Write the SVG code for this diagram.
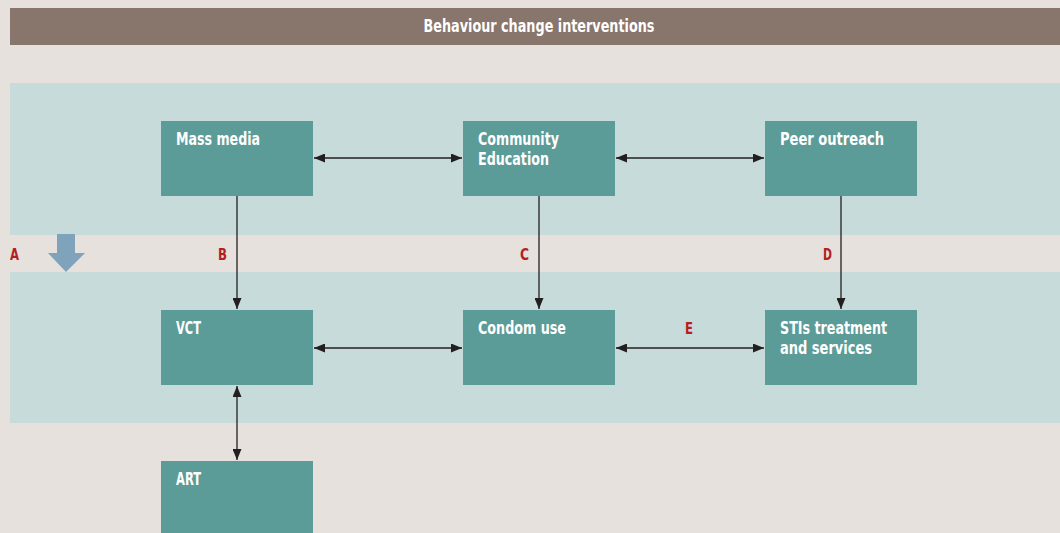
<svg xmlns="http://www.w3.org/2000/svg" width="1060" height="533" viewBox="0 0 1060 533">
<style>
.node rect{fill:#5b9b98}
.node text,.title{font-family:"DejaVu Sans Condensed","DejaVu Sans",sans-serif;font-weight:bold;font-stretch:condensed;fill:#ffffff;font-size:17px}
.lbl{font-family:"DejaVu Sans Condensed","DejaVu Sans",sans-serif;font-weight:bold;fill:#b3201f;font-size:16px}
.con line{stroke:#231f20;stroke-width:1.3;fill:none}
</style>
<defs>
<marker id="ah" viewBox="0 0 11 10" refX="11" refY="5" markerWidth="11" markerHeight="9" markerUnits="userSpaceOnUse" orient="auto-start-reverse" preserveAspectRatio="none">
<path d="M0,0 L11,5 L0,10 z" fill="#231f20"/>
</marker>
</defs>
<rect width="1060" height="533" fill="#e6e1dc"/>
<g id="header">
<rect x="10" y="8" width="1050" height="37" fill="#88756b"/>
<text class="title" x="539" y="32" text-anchor="middle" textLength="231" lengthAdjust="spacingAndGlyphs">Behaviour change interventions</text>
</g>
<g id="bands">
<rect x="10" y="83" width="1050" height="152" fill="#c6dbda"/>
<rect x="10" y="272" width="1050" height="151" fill="#c6dbda"/>
</g>
<g id="arrowA">
<path d="M57,234 H75 V253 H85 L66,272 L48,253 H57 Z" fill="#7fa3ba"/>
</g>
<g class="con" id="connectors">
<line x1="314" y1="158" x2="462" y2="158" marker-start="url(#ah)" marker-end="url(#ah)"/>
<line x1="616" y1="158" x2="764" y2="158" marker-start="url(#ah)" marker-end="url(#ah)"/>
<line x1="314" y1="348" x2="462" y2="348" marker-start="url(#ah)" marker-end="url(#ah)"/>
<line x1="616" y1="348" x2="764" y2="348" marker-start="url(#ah)" marker-end="url(#ah)"/>
<line x1="237" y1="196" x2="237" y2="309" marker-end="url(#ah)"/>
<line x1="539" y1="196" x2="539" y2="309" marker-end="url(#ah)"/>
<line x1="841" y1="196" x2="841" y2="309" marker-end="url(#ah)"/>
<line x1="237" y1="386" x2="237" y2="460" marker-start="url(#ah)" marker-end="url(#ah)"/>
</g>
<g id="labels">
<text class="lbl" x="10" y="260" textLength="9" lengthAdjust="spacingAndGlyphs">A</text>
<text class="lbl" x="218" y="260" textLength="9" lengthAdjust="spacingAndGlyphs">B</text>
<text class="lbl" x="520" y="260" textLength="9" lengthAdjust="spacingAndGlyphs">C</text>
<text class="lbl" x="823" y="260" textLength="9" lengthAdjust="spacingAndGlyphs">D</text>
<text class="lbl" x="685" y="334" textLength="8" lengthAdjust="spacingAndGlyphs">E</text>
</g>
<g id="mass-media" class="node"><rect x="161" y="121" width="152" height="75"/><text x="176" y="145" textLength="84" lengthAdjust="spacingAndGlyphs">Mass media</text></g>
<g id="community-education" class="node"><rect x="463" y="121" width="152" height="75"/><text x="478" y="145" textLength="81" lengthAdjust="spacingAndGlyphs">Community</text><text x="478" y="165" textLength="71" lengthAdjust="spacingAndGlyphs">Education</text></g>
<g id="peer-outreach" class="node"><rect x="765" y="121" width="152" height="75"/><text x="780" y="145" textLength="104" lengthAdjust="spacingAndGlyphs">Peer outreach</text></g>
<g id="vct" class="node"><rect x="161" y="310" width="152" height="75"/><text x="176" y="334" textLength="25" lengthAdjust="spacingAndGlyphs">VCT</text></g>
<g id="condom-use" class="node"><rect x="463" y="310" width="152" height="75"/><text x="478" y="334" textLength="88" lengthAdjust="spacingAndGlyphs">Condom use</text></g>
<g id="stis" class="node"><rect x="765" y="310" width="152" height="75"/><text x="780" y="334" textLength="107" lengthAdjust="spacingAndGlyphs">STIs treatment</text><text x="780" y="354" textLength="92" lengthAdjust="spacingAndGlyphs">and services</text></g>
<g id="art" class="node"><rect x="161" y="461" width="152" height="72"/><text x="176" y="485" textLength="25" lengthAdjust="spacingAndGlyphs">ART</text></g>
</svg>
